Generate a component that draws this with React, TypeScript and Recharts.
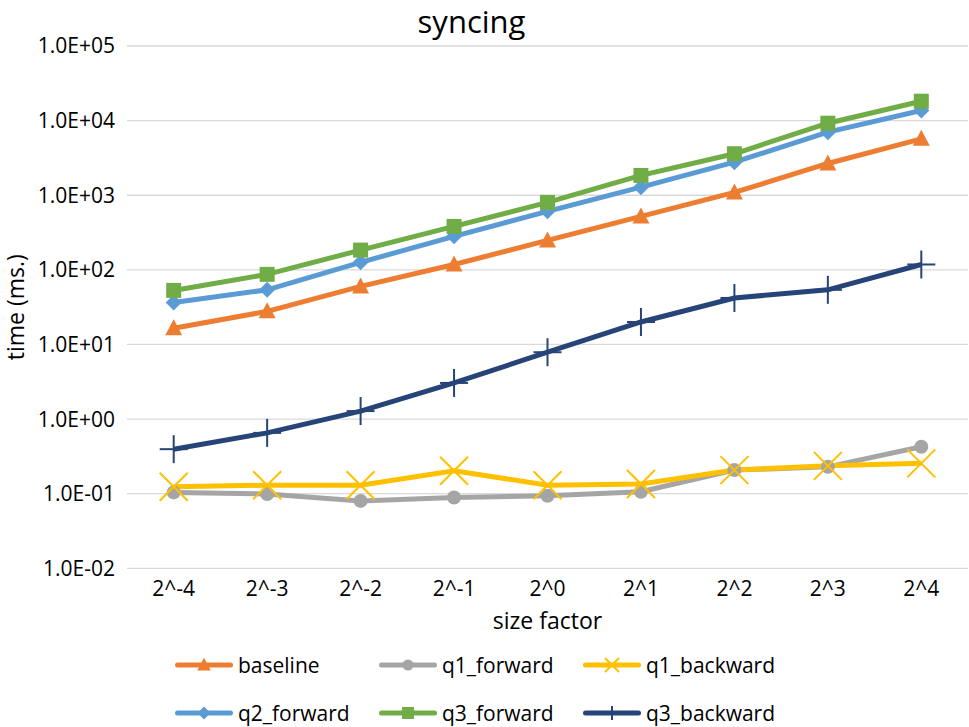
import React from 'react';
import { LineChart, Line, XAxis, YAxis, CartesianGrid } from 'recharts';

const categories = ['2^-4', '2^-3', '2^-2', '2^-1', '2^0', '2^1', '2^2', '2^3', '2^4'];
const baseline = [16.5, 27.8, 60, 118, 248, 520, 1090, 2665, 5700];
const q1Forward = [0.104, 0.099, 0.08, 0.089, 0.094, 0.106, 0.207, 0.229, 0.425];
const q1Backward = [0.124, 0.13, 0.13, 0.203, 0.13, 0.135, 0.207, 0.236, 0.255];
const q2Forward = [36.4, 54, 126, 281, 608, 1282, 2775, 7000, 13650];
const q3Forward = [53, 87, 184, 382, 801, 1842, 3595, 9230, 18200];
const q3Backward = [0.395, 0.653, 1.28, 3.05, 7.87, 20, 42, 54, 118];
const yTicks = [0.01, 0.1, 1, 10, 100, 1000, 10000, 100000];

const FONT = '"Open Sans", "Noto Sans", sans-serif';

type Shape = 'triangle' | 'circle' | 'x' | 'diamond' | 'square' | 'plus';

const series: { key: string; name: string; color: string; shape: Shape; values: number[] }[] = [
  { key: 'baseline', name: 'baseline', color: '#ED7D31', shape: 'triangle', values: baseline },
  { key: 'q1_forward', name: 'q1_forward', color: '#A5A5A5', shape: 'circle', values: q1Forward },
  { key: 'q1_backward', name: 'q1_backward', color: '#FFC000', shape: 'x', values: q1Backward },
  { key: 'q2_forward', name: 'q2_forward', color: '#5B9BD5', shape: 'diamond', values: q2Forward },
  { key: 'q3_forward', name: 'q3_forward', color: '#70AD47', shape: 'square', values: q3Forward },
  { key: 'q3_backward', name: 'q3_backward', color: '#264478', shape: 'plus', values: q3Backward },
];

const data = categories.map((c, i) => {
  const row: Record<string, any> = { cat: c };
  series.forEach((s) => {
    row[s.key] = s.values[i];
  });
  return row;
});

function marker(shape: Shape, color: string, cx: number, cy: number, scale: number, key?: any) {
  const k = scale;
  switch (shape) {
    case 'triangle':
      return (
        <polygon key={key} points={`${cx},${cy - 9 * k} ${cx - 8.5 * k},${cy + 7 * k} ${cx + 8.5 * k},${cy + 7 * k}`} fill={color} />
      );
    case 'circle':
      return <circle key={key} cx={cx} cy={cy} r={7 * k} fill={color} />;
    case 'x':
      return (
        <g key={key} stroke={color} strokeWidth={2}>
          <line x1={cx - 14 * k} y1={cy - 14 * k} x2={cx + 14 * k} y2={cy + 14 * k} />
          <line x1={cx - 14 * k} y1={cy + 14 * k} x2={cx + 14 * k} y2={cy - 14 * k} />
        </g>
      );
    case 'diamond':
      return (
        <polygon key={key} points={`${cx},${cy - 8 * k} ${cx + 8 * k},${cy} ${cx},${cy + 8 * k} ${cx - 8 * k},${cy}`} fill={color} />
      );
    case 'square':
      return <rect key={key} x={cx - 7.5 * k} y={cy - 7.5 * k} width={15 * k} height={15 * k} fill={color} />;
    case 'plus':
    default:
      return (
        <g key={key} stroke={color} strokeWidth={2}>
          <line x1={cx} y1={cy - 14 * k} x2={cx} y2={cy + 14 * k} />
          <line x1={cx - 14 * k} y1={cy} x2={cx + 14 * k} y2={cy} />
        </g>
      );
  }
}

const fmt = (v: number) => {
  const e = Math.round(Math.log10(v));
  const sign = e < 0 ? '-' : '+';
  const abs = Math.abs(e);
  return `1.0E${sign}${abs < 10 ? '0' + abs : abs}`;
};

export default function App() {
  return (
    <div style={{ position: 'absolute', left: 0, top: 0, width: 969, height: 727, fontFamily: FONT, background: '#fff' }}>
      <div
        style={{
          position: 'absolute',
          left: 0,
          width: 943,
          top: 0,
          textAlign: 'center',
          fontSize: 31,
          color: '#000',
          lineHeight: '43px',
        }}
      >
        syncing
      </div>
      <LineChart width={969} height={727} data={data} margin={{ top: 46, right: 1, bottom: 0, left: 0 }}>
        <CartesianGrid vertical={false} stroke="#d9d9d9" strokeWidth={1.3} />
        <XAxis
          dataKey="cat"
          height={158.7}
          tickSize={0}
          tickMargin={13}
          axisLine={false}
          padding={{ left: 46.7, right: 46.7 }}
          tick={{ fill: '#000', fontSize: 21, fontFamily: FONT }}
          interval={0}
          label={{ value: 'size factor', position: 'insideTop', offset: 44, fill: '#000', fontSize: 23, fontFamily: FONT }}
        />
        <YAxis
          scale="log"
          domain={[0.01, 100000]}
          ticks={yTicks}
          allowDataOverflow
          width={127}
          tickSize={0}
          tickMargin={12}
          axisLine={false}
          tickFormatter={fmt}
          tick={{ fill: '#000', fontSize: 21, fontFamily: FONT }}
          label={{
            value: 'time (ms.)',
            angle: -90,
            position: 'insideLeft',
            offset: 16,
            fill: '#000',
            fontSize: 23,
            fontFamily: FONT,
            style: { textAnchor: 'middle' },
          }}
        />
        {series.map((s) => (
          <Line
            key={s.key}
            dataKey={s.key}
            name={s.name}
            stroke={s.color}
            strokeWidth={5}
            isAnimationActive={false}
            dot={(p: any) => marker(s.shape, s.color, p.cx, p.cy, 1, `${s.key}-${p.index}`)}
            activeDot={false}
          />
        ))}
      </LineChart>
      <div style={{ position: 'absolute', left: 175, top: 650, width: 700 }}>
        {series.map((s, i) => (
          <div
            key={s.key}
            style={{
              position: 'absolute',
              left: (i % 3) * 204,
              top: Math.floor(i / 3) * 48,
              display: 'flex',
              alignItems: 'center',
              height: 30,
              whiteSpace: 'nowrap',
            }}
          >
            <svg width={58} height={30} style={{ display: 'block' }}>
              <line x1={2.5} y1={15} x2={55.5} y2={15} stroke={s.color} strokeWidth={5} strokeLinecap="round" />
              {marker(s.shape, s.color, 29, 15, s.shape === 'x' || s.shape === 'plus' ? 0.5 : 0.8)}
            </svg>
            <span style={{ fontSize: 21, color: '#000', marginLeft: 5, lineHeight: '30px' }}>{s.name}</span>
          </div>
        ))}
      </div>
    </div>
  );
}
